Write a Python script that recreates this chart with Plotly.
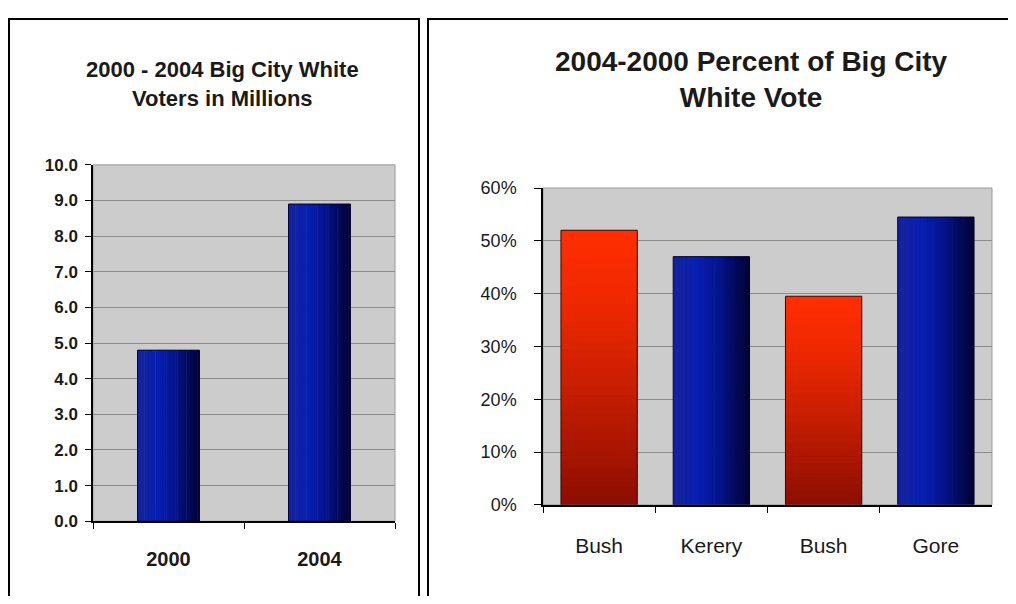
import plotly.graph_objects as go

# ---------------- data ----------------
years = ["2000", "2004"]
voters_millions = [4.8, 8.9]

candidates = ["Bush", "Kerery", "Bush ", "Gore"]
candidate_labels = ["Bush", "Kerery", "Bush", "Gore"]
vote_pct = [52.0, 47.0, 39.5, 54.5]
party = ["R", "D", "R", "D"]

left_title = "2000 - 2004 Big City White<br>Voters in Millions"
right_title = "2004-2000 Percent of Big City<br>White Vote"

# ---------------- style ----------------
# The page body keeps its default 8px margin, so the figure is drawn 16px
# smaller and all screen positions are shifted by 8px.
OFF = 8
W, H = 1016 - 2 * OFF, 604 - 2 * OFF
FONT = "Liberation Sans, Arial, Helvetica, sans-serif"
BG_PLOT = "#CCCCCC"
GRID = "#8C8C8C"
TEXT = "#1a1a1a"

BLUE_STOPS = [(0.0, (20, 36, 152)), (0.3, (8, 30, 178)), (0.6, (4, 20, 140)), (1.0, (0, 0, 50))]
RED_STOPS = [(0.0, (140, 14, 0)), (0.4, (196, 29, 0)), (0.75, (240, 40, 0)), (1.0, (255, 46, 0))]


def interp(stops, t):
    for (t0, c0), (t1, c1) in zip(stops[:-1], stops[1:]):
        if t <= t1:
            f = (t - t0) / (t1 - t0) if t1 > t0 else 0
            c = [round(a + (b - a) * f) for a, b in zip(c0, c1)]
            return "rgb(%d,%d,%d)" % tuple(c)
    return "rgb(%d,%d,%d)" % stops[-1][1]


def px(x):
    return (x - OFF) / W


def py(y):
    return 1 - (y - OFF) / H


fig = go.Figure()

NS = 28  # strips for horizontal gradient
NV = 30  # segments for vertical gradient


def add_h_gradient(xs, ys, bw, xa, ya):
    step = bw / NS
    for k in range(NS):
        t = (k + 0.5) / NS
        wid = step * (1.25 if k < NS - 1 else 1.0)
        fig.add_trace(go.Bar(
            x=xs, y=ys, width=wid, offset=-bw / 2 + k * step,
            marker=dict(color=interp(BLUE_STOPS, t), line=dict(width=0)),
            showlegend=False, hoverinfo="skip", xaxis=xa, yaxis=ya))


def add_v_gradient(xs, ys, bw, xa, ya):
    for k in range(NV):
        t = (k + 0.5) / NV
        bases = [None if v is None else v * k / NV for v in ys]
        hts = [None if v is None else v / NV * (1.3 if k < NV - 1 else 1.0) for v in ys]
        fig.add_trace(go.Bar(
            x=xs, y=hts, base=bases, width=bw, offset=-bw / 2,
            marker=dict(color=interp(RED_STOPS, t), line=dict(width=0)),
            showlegend=False, hoverinfo="skip", xaxis=xa, yaxis=ya))


def add_outline(xs, ys, bw, color, xa, ya):
    fig.add_trace(go.Bar(
        x=xs, y=ys, width=bw, offset=-bw / 2,
        marker=dict(color="rgba(0,0,0,0)", line=dict(width=1, color=color)),
        showlegend=False, hoverinfo="skip", xaxis=xa, yaxis=ya))


# ---- left chart ----
BW_L = 0.41
add_h_gradient(years, voters_millions, BW_L, "x", "y")
add_outline(years, voters_millions, BW_L, "#000030", "x", "y")

# ---- right chart ----
BW_R = 0.68
blue_vals = [v if p == "D" else None for v, p in zip(vote_pct, party)]
red_vals = [v if p == "R" else None for v, p in zip(vote_pct, party)]
add_h_gradient(candidates, blue_vals, BW_R, "x2", "y2")
add_v_gradient(candidates, red_vals, BW_R, "x2", "y2")
add_outline(candidates, blue_vals, BW_R, "#000030", "x2", "y2")
add_outline(candidates, red_vals, BW_R, "#3a0800", "x2", "y2")

axis_common = dict(showline=True, linecolor="black", linewidth=1.5, ticks="outside",
                   tickcolor="black", tickwidth=1.2, zeroline=False)

fig.update_layout(
    width=W, height=H,
    margin=dict(l=0, r=0, t=0, b=0),
    paper_bgcolor="white",
    plot_bgcolor=BG_PLOT,
    barmode="overlay",
    showlegend=False,
    xaxis=dict(domain=[px(93), px(395)], anchor="y", type="category",
               tickson="boundaries", ticklen=6, showgrid=False,
               tickfont=dict(family=FONT, size=20, weight="bold", color=TEXT),
               ticklabelstandoff=19, **axis_common),
    yaxis=dict(domain=[py(529), py(160)], anchor="x", range=[0, 10], dtick=1,
               tickformat=".1f", ticklen=6, showgrid=True, gridcolor=GRID, gridwidth=1,
               tickfont=dict(family=FONT, size=17, weight="bold", color=TEXT),
               ticklabelstandoff=4, **axis_common),
    xaxis2=dict(domain=[px(543), px(992)], anchor="y2", type="category",
                tickson="boundaries", ticklen=6, showgrid=False,
                tickvals=candidates, ticktext=candidate_labels,
                tickfont=dict(family=FONT, size=21, color=TEXT),
                ticklabelstandoff=21, **axis_common),
    yaxis2=dict(domain=[py(512), py(184)], anchor="x2", range=[0, 60], dtick=10,
                ticksuffix="%", ticklen=7, showgrid=True, gridcolor=GRID, gridwidth=1,
                tickfont=dict(family=FONT, size=18, color=TEXT),
                ticklabelstandoff=14, **axis_common),
)

shapes = [
    # panel borders
    dict(type="rect", xref="paper", yref="paper", x0=px(9), x1=px(419), y0=py(640), y1=py(9),
         line=dict(color="black", width=2), fillcolor="rgba(0,0,0,0)", layer="above"),
    dict(type="rect", xref="paper", yref="paper", x0=px(428), x1=px(1040), y0=py(640), y1=py(9),
         line=dict(color="black", width=2), fillcolor="rgba(0,0,0,0)", layer="above"),
    # plot-area frames
    dict(type="rect", xref="x domain", yref="y domain", x0=0, x1=1, y0=0, y1=1,
         line=dict(color="#9a9a9a", width=1), layer="below"),
    dict(type="rect", xref="x2 domain", yref="y2 domain", x0=0, x1=1, y0=0, y1=1,
         line=dict(color="#9a9a9a", width=1), layer="below"),
]
fig.update_layout(shapes=shapes)

fig.add_annotation(x=px(222), y=py(76), xref="paper", yref="paper", text=left_title,
                   showarrow=False, xanchor="center", yanchor="middle",
                   font=dict(family=FONT, size=22, weight="bold", color=TEXT))
fig.add_annotation(x=px(751), y=py(72), xref="paper", yref="paper", text=right_title,
                   showarrow=False, xanchor="center", yanchor="middle",
                   font=dict(family=FONT, size=28, weight="bold", color=TEXT))

fig.write_html("out.html")
